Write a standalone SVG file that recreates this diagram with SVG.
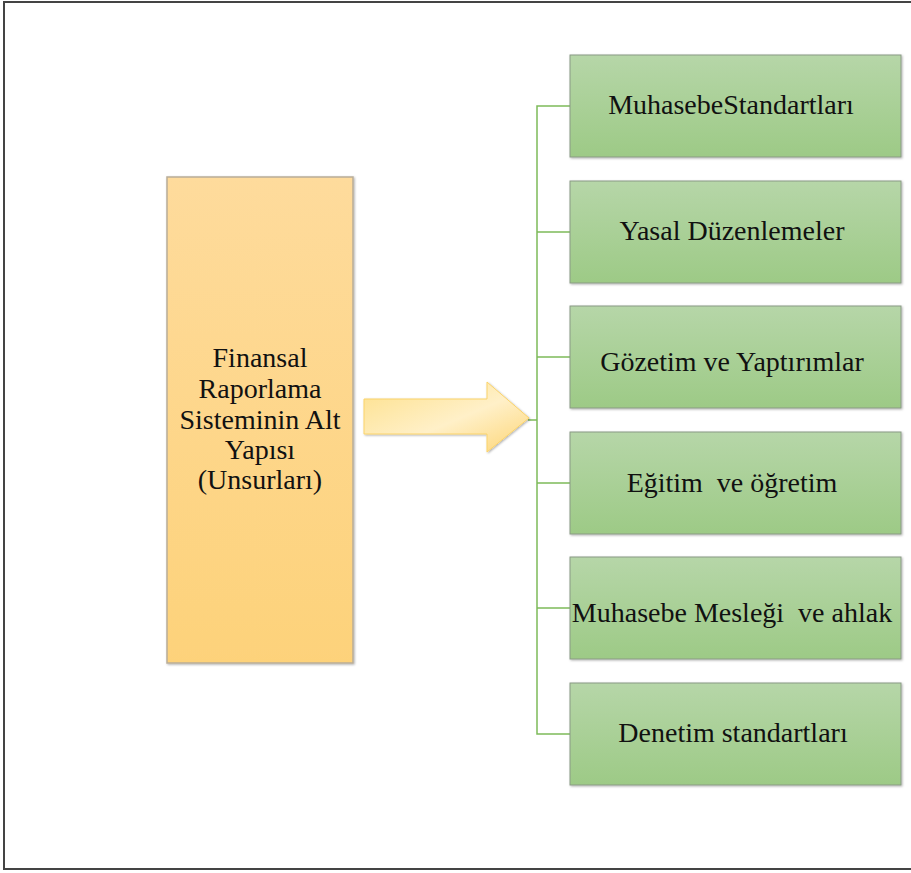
<svg xmlns="http://www.w3.org/2000/svg" width="911" height="873" viewBox="0 0 911 873">
  <defs>
    <linearGradient id="gOrange" x1="0" y1="0" x2="0" y2="1">
      <stop offset="0" stop-color="#fedb9c"/>
      <stop offset="1" stop-color="#fdd27a"/>
    </linearGradient>
    <linearGradient id="gGreen" x1="0" y1="0" x2="0" y2="1">
      <stop offset="0" stop-color="#b6d6a8"/>
      <stop offset="1" stop-color="#9dca86"/>
    </linearGradient>
    <linearGradient id="gArrow" x1="0" y1="0" x2="1" y2="1">
      <stop offset="0" stop-color="#fde08a"/>
      <stop offset="0.55" stop-color="#fff0c8"/>
      <stop offset="1" stop-color="#fdd575"/>
    </linearGradient>
    <filter id="shadow" x="-10%" y="-10%" width="120%" height="120%">
      <feDropShadow dx="1" dy="1" stdDeviation="1" flood-color="#000" flood-opacity="0.3"/>
    </filter>
  </defs>
  <style>
    .lbl { font-family: "Liberation Serif", "Times New Roman", serif; font-size: 28px; fill: #111; text-anchor: middle; }
    .gbox { fill: url(#gGreen); stroke: #8a9a85; stroke-width: 1; filter: url(#shadow); }
    .obox { fill: url(#gOrange); stroke: #b9ad98; stroke-width: 1.5; filter: url(#shadow); }
    .conn { fill: none; stroke: #7dbb5a; stroke-width: 1.5; }
  </style>

  <rect x="0" y="0" width="911" height="873" fill="#ffffff"/>
  <!-- outer frame -->
  <path d="M911 2 H4 V869 H911" fill="none" stroke="#444" stroke-width="2"/>

  <!-- connectors -->
  <g id="connectors">
    <path class="conn" d="M570 106 H537 V734 H570"/>
    <path class="conn" d="M537 232 H570 M537 357 H570 M537 483 H570 M537 608 H570 M528 420 H537"/>
  </g>

  <g id="root">
    <rect class="obox" x="167" y="177" width="186" height="486"/>
    <text class="lbl" x="260" y="367">Finansal</text>
    <text class="lbl" x="260" y="398">Raporlama</text>
    <text class="lbl" x="260" y="429">Sisteminin Alt</text>
    <text class="lbl" x="260" y="459">Yapısı</text>
    <text class="lbl" x="260" y="489">(Unsurları)</text>
  </g>

  <g id="arrow">
    <path d="M364 399 H487 V382 L529 418 L487 452 V434 H364 Z" fill="url(#gArrow)" stroke="#fbd36a" stroke-width="1" filter="url(#shadow)"/>
  </g>

  <g id="n1">
    <rect class="gbox" x="570" y="55" width="331" height="102"/>
    <text class="lbl" x="731" y="114">MuhasebeStandartları</text>
  </g>
  <g id="n2">
    <rect class="gbox" x="570" y="181" width="331" height="102"/>
    <text class="lbl" x="732" y="240">Yasal Düzenlemeler</text>
  </g>
  <g id="n3">
    <rect class="gbox" x="570" y="306" width="331" height="102"/>
    <text class="lbl" x="732" y="371">Gözetim ve Yaptırımlar</text>
  </g>
  <g id="n4">
    <rect class="gbox" x="570" y="432" width="331" height="102"/>
    <text class="lbl" x="732" y="492" xml:space="preserve">Eğitim  ve öğretim</text>
  </g>
  <g id="n5">
    <rect class="gbox" x="570" y="557" width="331" height="102"/>
    <text class="lbl" x="732" y="622" xml:space="preserve">Muhasebe Mesleği  ve ahlak</text>
  </g>
  <g id="n6">
    <rect class="gbox" x="570" y="683" width="331" height="102"/>
    <text class="lbl" x="733" y="742">Denetim standartları</text>
  </g>
</svg>
